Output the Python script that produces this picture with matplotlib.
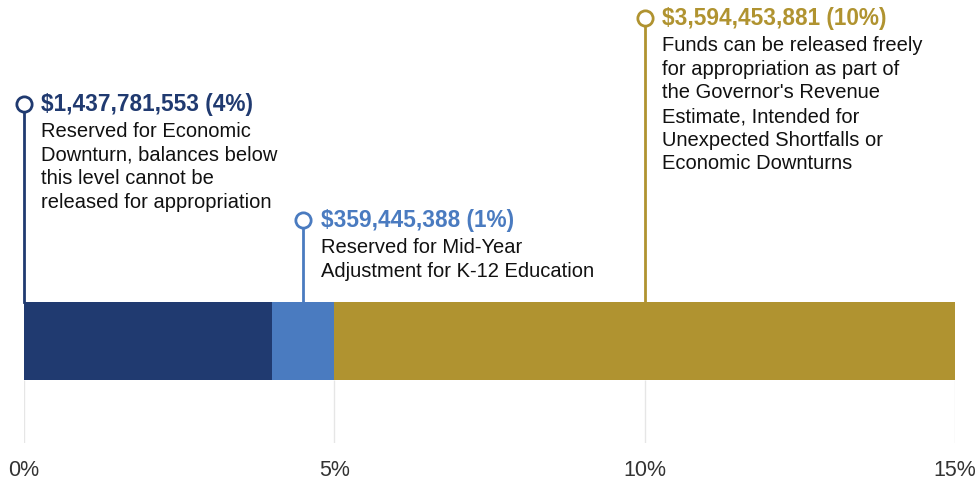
import matplotlib.pyplot as plt

plt.rcParams['font.family'] = ['Liberation Sans', 'DejaVu Sans']

# data
segments = ["Economic Downturn", "Mid-Year K-12", "Revenue Estimate"]
starts = [0, 4, 5]
widths = [4, 1, 10]
colors = ["#203a70", "#4a7bc0", "#b09330"]
labels = ["$1,437,781,553 (4%)", "$359,445,388 (1%)", "$3,594,453,881 (10%)"]
notes = [
    "Reserved for Economic\nDownturn, balances below\nthis level cannot be\nreleased for appropriation",
    "Reserved for Mid-Year\nAdjustment for K-12 Education",
    "Funds can be released freely\nfor appropriation as part of\nthe Governor's Revenue\nEstimate, Intended for\nUnexpected Shortfalls or\nEconomic Downturns",
]
note_x = [0, 4.5, 10]
ticks = [0, 5, 10, 15]
tick_labels = ["0%", "5%", "10%", "15%"]

# layout (y axis runs in pixels from top)
note_y = [104, 220, 18]
bar_top, bar_bot = 302, 380

fig = plt.figure(figsize=(9.79, 4.80), dpi=100)
ax = fig.add_axes([24 / 979, 1 - 443 / 480, (955 - 24) / 979, 443 / 480])
ax.set_xlim(0, 15)
ax.set_ylim(443, 0)

ax.vlines(ticks, bar_bot, 443, color="#e6e6e6", lw=1, zorder=0)

for s, w, c in zip(starts, widths, colors):
    ax.barh((bar_top + bar_bot) / 2, w, left=s, height=bar_bot - bar_top,
            color=c, zorder=2)

for x, y, c, lab, note in zip(note_x, note_y, colors, labels, notes):
    ax.plot([x, x], [y, bar_top], color=c, lw=2, zorder=3, clip_on=False)
    ax.plot([x], [y], marker="o", ms=11, mfc="white", mec=c, mew=2,
            zorder=4, clip_on=False)
    ax.annotate(lab, xy=(x, y), xytext=(12.5, 0), textcoords="offset points",
                va="center", ha="left", fontsize=16.3, fontweight="bold", color=c)
    ax.annotate(note, xy=(x, y), xytext=(12.5, -13), textcoords="offset points",
                va="top", ha="left", fontsize=14.5, color="#111111",
                linespacing=1.31)

ax.set_xticks(ticks)
ax.set_xticklabels(tick_labels, fontsize=15.5, color="#333333")
ax.tick_params(axis="x", length=0, pad=12)
ax.set_yticks([])
for sp in ax.spines.values():
    sp.set_visible(False)

fig.savefig("out.png", dpi=100)
